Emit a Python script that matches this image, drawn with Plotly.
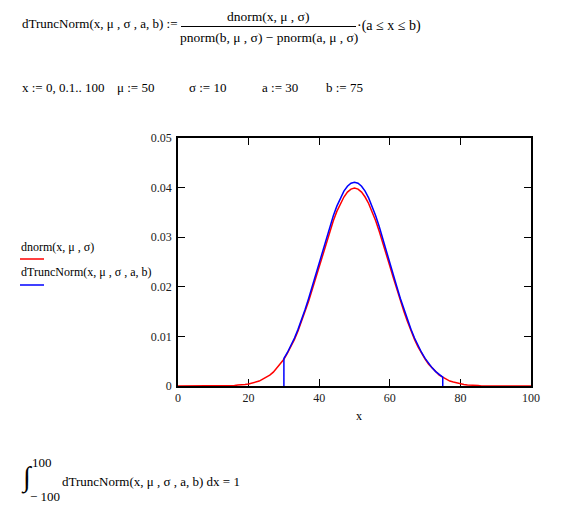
import plotly.graph_objects as go

# ---------------- data ----------------
x_red = list(range(0, 101))
dnorm_vals = (
    [0.0] * 15
    + [0.0001, 0.0001, 0.0002, 0.0002, 0.0003, 0.0004, 0.0006, 0.0008, 0.0010, 0.0014,
       0.0018, 0.0022, 0.0028, 0.0036, 0.0044, 0.0054, 0.0066, 0.0079, 0.0094, 0.0111,
       0.0130, 0.0150, 0.0171, 0.0194, 0.0218, 0.0242, 0.0266, 0.0290, 0.0312, 0.0333,
       0.0352, 0.0368, 0.0381, 0.0391, 0.0397, 0.0399, 0.0397, 0.0391, 0.0381, 0.0368,
       0.0352, 0.0333, 0.0312, 0.0290, 0.0266, 0.0242, 0.0218, 0.0194, 0.0171, 0.0150,
       0.0130, 0.0111, 0.0094, 0.0079, 0.0066, 0.0054, 0.0044, 0.0036, 0.0028, 0.0022,
       0.0018, 0.0014, 0.0010, 0.0008, 0.0006, 0.0004, 0.0003, 0.0002, 0.0002, 0.0001,
       0.0001]
    + [0.0] * 15
)

x_blue = [30] + list(range(30, 76)) + [75]
dtrunc_vals = (
    [0.0]
    + [0.00556, 0.00676, 0.00814, 0.00968, 0.01142, 0.01334, 0.01542, 0.01765, 0.02000, 0.02244,
       0.02492, 0.02740, 0.02983, 0.03216, 0.03431, 0.03626, 0.03793, 0.03928, 0.04027, 0.04088,
       0.04108, 0.04088, 0.04027, 0.03928, 0.03793, 0.03626, 0.03431, 0.03216, 0.02983, 0.02740,
       0.02492, 0.02244, 0.02000, 0.01765, 0.01542, 0.01334, 0.01142, 0.00968, 0.00814, 0.00676,
       0.00556, 0.00453, 0.00366, 0.00291, 0.00231, 0.00180]
    + [0.0]
)

x_ticks = [0, 20, 40, 60, 80, 100]
y_ticks = [0, 0.01, 0.02, 0.03, 0.04, 0.05]
y_tick_labels = ["0", "0.01", "0.02", "0.03", "0.04", "0.05"]

# ---------------- layout geometry ----------------
W, H = 562, 510
L, R, T, B = 178, 31, 138, 124
PW, PH = W - L - R, H - T - B
FONT = "Liberation Serif, Times New Roman, serif"


def px(x):
    return (x - L) / PW


def py(y):
    return (H - B - y) / PH


fig = go.Figure()
fig.add_trace(go.Scatter(x=x_red, y=dnorm_vals, mode="lines",
                         line=dict(color="#ff0000", width=1.5), showlegend=False,
                         name="dnorm(x, μ, σ)"))
fig.add_trace(go.Scatter(x=x_blue, y=dtrunc_vals, mode="lines",
                         line=dict(color="#0000ff", width=1.5), showlegend=False,
                         name="dTruncNorm(x, μ, σ, a, b)"))

ann = []


def text(s, x, y, size=13, anchor="left"):
    ann.append(dict(text=s, x=px(x), y=py(y), xref="paper", yref="paper",
                    xanchor=anchor, yanchor="middle", showarrow=False,
                    font=dict(family=FONT, size=size, color="black")))


# top definition
text("dTruncNorm(x, μ , σ , a, b) :=", 20, 24, size=13)
text("dnorm(x, μ , σ)", 268, 16, size=13.5, anchor="center")
text("pnorm(b, μ , σ) − pnorm(a, μ , σ)", 269, 37, size=13.5, anchor="center")
text("·(a ≤ x ≤ b)", 355, 26, size=14)

# parameter line
text("x := 0, 0.1.. 100", 20, 87)
text("μ := 50", 115, 87)
text("σ := 10", 187, 87)
text("a := 30", 260, 87)
text("b := 75", 324, 87)

# legend
text("dnorm(x, μ , σ)", 19, 247, size=12)
text("dTruncNorm(x, μ , σ , a, b)", 19, 272, size=12)

# x-axis title
text("x", 359, 416, size=12, anchor="center")

# integral
text("∫", 27, 477, size=28, anchor="center")
text("100", 30, 462)
text("− 100", 28, 496)
text("dTruncNorm(x, μ , σ , a, b) dx = 1", 60, 481)

shapes = [
    dict(type="line", xref="paper", yref="paper", x0=px(181), x1=px(356),
         y0=py(26.5), y1=py(26.5), line=dict(color="black", width=1)),
    dict(type="line", xref="paper", yref="paper", x0=px(20), x1=px(44),
         y0=py(259), y1=py(259), line=dict(color="#ff0000", width=1.5)),
    dict(type="line", xref="paper", yref="paper", x0=px(20), x1=px(44),
         y0=py(285), y1=py(285), line=dict(color="#0000ff", width=1.5)),
]

axis_common = dict(showgrid=False, zeroline=False, showline=True, linecolor="black",
                   linewidth=1.5, mirror="allticks", ticks="inside", ticklen=7,
                   tickwidth=1, tickcolor="black", layer="below traces",
                   tickfont=dict(family=FONT, size=12, color="#1a1a1a"))

fig.update_layout(
    width=W, height=H, margin=dict(l=L, r=R, t=T, b=B, pad=0),
    paper_bgcolor="white", plot_bgcolor="white",
    xaxis=dict(range=[0, 100], tickvals=x_ticks, ticktext=[str(v) for v in x_ticks],
               **axis_common),
    yaxis=dict(range=[0, 0.05], tickvals=y_ticks, ticktext=y_tick_labels,
               ticklabelstandoff=2, **axis_common),
    annotations=ann, shapes=shapes, showlegend=False,
)

fig.write_html("out.html",
               config={"displayModeBar": False},
               post_script="document.body.style.margin='0';"
                           "document.body.style.overflow='hidden';")
